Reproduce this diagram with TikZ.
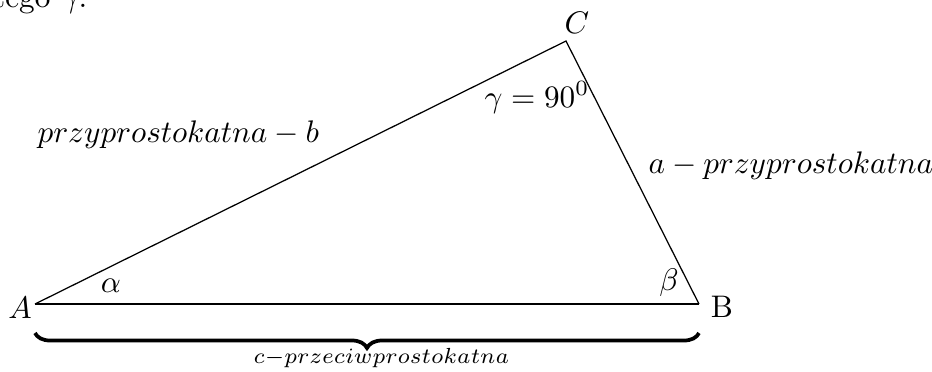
\documentclass[tikz,border=0pt]{standalone}
\usetikzlibrary{decorations.pathreplacing}
\begin{document}
\begin{tikzpicture}[x=0.3205pt,y=-0.3205pt,
  side/.style={line width=0.4pt},
  base/.style={thick},
  lbl/.style={inner sep=0pt},
  bracestyle/.style={very thick,decorate,decoration={brace,mirror,amplitude=4.8pt,raise=9.3pt}}]
\useasboundingbox (0,0) rectangle (932,372);
\coordinate (A) at (35,304);
\coordinate (B) at (699,304);
\coordinate (C) at (566,41);
\draw[side] (A) -- (C) -- (B);
\draw[base] (A) -- (B);
\draw[bracestyle] (A) -- (B);
\node[lbl,anchor=base east] (t) at (88,7) {tego $\gamma$.};
\node[lbl,anchor=base] (lC) at (577,33) {$C$};
\node[lbl,anchor=base] (lg) at (537,107) {$\gamma=90^0$};
\node[lbl,anchor=base west] (lb) at (37,142) {$przyprostokatna-b$};
\node[lbl,anchor=base west] (la) at (648,173) {$a-przyprostokatna$};
\node[lbl,anchor=base] (lal) at (111,292) {$\alpha$};
\node[lbl] (lbe) at (669,283) {$\beta$};
\node[lbl,anchor=base] (lA) at (20,318) {$A$};
\node[lbl,anchor=base] (lB) at (722,317) {B};
\node[lbl,anchor=base west] (lc) at (253,363) {$\scriptstyle c-przeciwprostokatna$};
\end{tikzpicture}
\end{document}
